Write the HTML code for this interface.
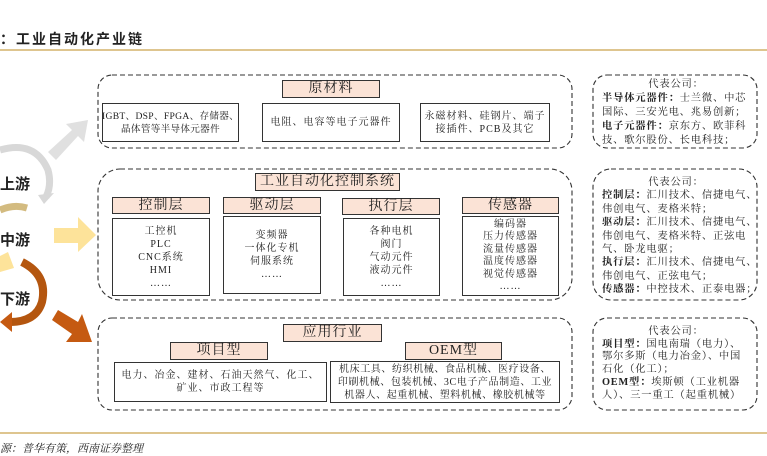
<!DOCTYPE html>
<html><head><meta charset="utf-8">
<style>
body{margin:0;width:767px;height:454px;background:#fff;position:relative;overflow:hidden;font-family:"Liberation Serif","Noto Serif CJK SC",serif;color:#222}
.a{position:absolute}
.hd{position:absolute;background:#fbe3d6;border:1.3px solid #333;box-sizing:border-box;text-align:center;font-size:14px;line-height:16px;letter-spacing:1px}
.bx{position:absolute;border:1.3px solid #333;box-sizing:border-box;text-align:center;font-size:10px;line-height:13px;letter-spacing:1px;white-space:nowrap;display:flex;flex-direction:column;justify-content:center;align-items:center}
.rt{position:absolute;font-size:10.3px;text-align:left;letter-spacing:0.8px}
.rt div{white-space:nowrap}
b{font-weight:bold}
</style></head><body>
<svg class="a" style="left:0;top:0" width="767" height="454">
<line x1="0" y1="50" x2="767" y2="50" stroke="#c9a24c" stroke-width="1.2"/>
<line x1="0" y1="433" x2="767" y2="433" stroke="#c9a24c" stroke-width="1.2"/>
<g fill="none" stroke="#333" stroke-dasharray="5,3" stroke-width="1.1">
<rect x="98" y="75" width="474" height="73" rx="14"/>
<rect x="98" y="169" width="474" height="131" rx="22"/>
<rect x="98" y="318" width="474" height="92" rx="14"/>
<rect x="593" y="75" width="164" height="73" rx="14"/>
<rect x="593" y="169" width="164" height="131" rx="18"/>
<rect x="593" y="318" width="164" height="92" rx="14"/>
</g>
<path d="M0 150 Q35 140 48 170 Q52 185 46 197" fill="none" stroke="#d8d8d8" stroke-width="7"/>
<polygon points="38,195 54,193 44,204" fill="#d8d8d8"/>
<polygon points="48,152 72,130 66,124 88,120 84,142 78,136 56,160" fill="#e0e0e0"/>
<path d="M0 210 Q14 204 27 208" fill="none" stroke="#d3bb80" stroke-width="7"/>
<polygon points="54,228 78,228 78,217 96,235 78,252 78,243 54,243" fill="#fde39a"/>
<polygon points="0,256 8,252 14,268 0,272" fill="#fde39a"/>
<path d="M22 262 Q48 275 42 302 Q36 322 10 322" fill="none" stroke="#b4560f" stroke-width="8"/>
<polygon points="12,312 0,322 12,332" fill="#c55a11"/>
<polygon points="52,320 58,310 78,322 82,314 92,342 66,342 72,334" fill="#c55a11"/>
</svg>
<div class="a" style="left:0;top:29px;font-size:14px;font-weight:bold;font-family:'Liberation Sans','Noto Sans CJK SC',sans-serif;letter-spacing:2px">：工业自动化产业链</div>
<div class="a" style="left:0;top:173px;font-size:15px;font-weight:bold;font-family:'Liberation Sans','Noto Sans CJK SC',sans-serif">上游</div>
<div class="a" style="left:0;top:229px;font-size:15px;font-weight:bold;font-family:'Liberation Sans','Noto Sans CJK SC',sans-serif">中游</div>
<div class="a" style="left:0;top:288px;font-size:15px;font-weight:bold;font-family:'Liberation Sans','Noto Sans CJK SC',sans-serif">下游</div>

<div class="hd" style="left:282px;top:80px;width:98px;height:18px">原材料</div>
<div class="bx" style="left:102px;top:103px;width:137px;height:39px;letter-spacing:0.3px;font-size:9.6px">IGBT、DSP、FPGA、存储器、<br>晶体管等半导体元器件</div>
<div class="bx" style="left:262px;top:103px;width:138px;height:39px">电阻、电容等电子元器件</div>
<div class="bx" style="left:420px;top:103px;width:130px;height:39px">永磁材料、硅钢片、端子<br>接插件、PCB及其它</div>

<div class="hd" style="left:255px;top:173px;width:145px;height:18px">工业自动化控制系统</div>
<div class="hd" style="left:112px;top:197px;width:98px;height:17px">控制层</div>
<div class="hd" style="left:223px;top:197px;width:98px;height:17px">驱动层</div>
<div class="hd" style="left:342px;top:198px;width:98px;height:17px">执行层</div>
<div class="hd" style="left:462px;top:197px;width:97px;height:17px">传感器</div>
<div class="bx" style="left:112px;top:218px;width:98px;height:78px">工控机<br>PLC<br>CNC系统<br>HMI<br>……</div>
<div class="bx" style="left:223px;top:216px;width:98px;height:78px">变频器<br>一体化专机<br>伺服系统<br>……</div>
<div class="bx" style="left:343px;top:218px;width:97px;height:78px">各种电机<br>阀门<br>气动元件<br>液动元件<br>……</div>
<div class="bx" style="left:462px;top:216px;width:97px;height:80px;line-height:12.5px">编码器<br>压力传感器<br>流量传感器<br>温度传感器<br>视觉传感器<br>……</div>

<div class="hd" style="left:283px;top:324px;width:99px;height:18px">应用行业</div>
<div class="hd" style="left:170px;top:342px;width:98px;height:18px">项目型</div>
<div class="hd" style="left:405px;top:342px;width:97px;height:18px">OEM型</div>
<div class="bx" style="left:114px;top:362px;width:213px;height:40px">电力、冶金、建材、石油天然气、化工、<br>矿业、市政工程等</div>
<div class="bx" style="left:330px;top:361px;width:230px;height:42px;line-height:13px;letter-spacing:0.6px">机床工具、纺织机械、食品机械、医疗设备、<br>印刷机械、包装机械、3C电子产品制造、工业<br>机器人、起重机械、塑料机械、橡胶机械等</div>

<div class="rt" style="left:602px;top:78px;line-height:14px">
<div style="text-align:center;width:148px">代表公司：</div>
<div><b>半导体元器件：</b>士兰微、中芯</div>
<div>国际、三安光电、兆易创新；</div>
<div><b>电子元器件：</b>京东方、欧菲科</div>
<div>技、歌尔股份、长电科技；</div>
</div>
<div class="rt" style="left:602px;top:176px;line-height:13.4px">
<div style="text-align:center;width:148px">代表公司：</div>
<div><b>控制层：</b>汇川技术、信捷电气、</div>
<div>伟创电气、麦格米特；</div>
<div><b>驱动层：</b>汇川技术、信捷电气、</div>
<div>伟创电气、麦格米特、正弦电</div>
<div>气、卧龙电驱；</div>
<div><b>执行层：</b>汇川技术、信捷电气、</div>
<div>伟创电气、正弦电气；</div>
<div><b>传感器：</b>中控技术、正泰电器；</div>
</div>
<div class="rt" style="left:602px;top:326px;line-height:12.7px">
<div style="text-align:center;width:148px">代表公司：</div>
<div><b>项目型：</b>国电南瑞（电力）、</div>
<div>鄂尔多斯（电力冶金）、中国</div>
<div>石化（化工）；</div>
<div><b>OEM型：</b>埃斯顿（工业机器</div>
<div>人）、三一重工（起重机械）</div>
</div>
<div class="a" style="left:0;top:440px;font-size:11px;font-style:italic">源：普华有策，西南证券整理</div>
</body></html>
